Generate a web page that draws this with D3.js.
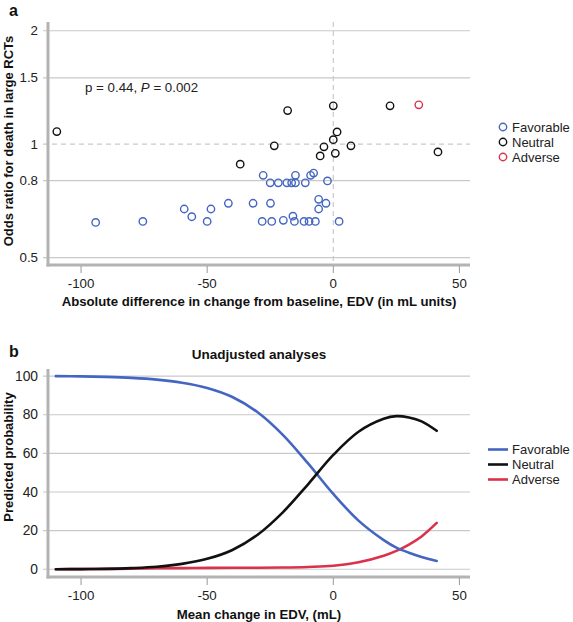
<!DOCTYPE html>
<html><head><meta charset="utf-8">
<script src="https://cdn.jsdelivr.net/npm/d3@7"></script>
<style>
body{margin:0;background:#fff;}
svg{display:block;font-family:"Liberation Sans",Arial,Helvetica,sans-serif;}
</style></head>
<body><svg id="c" width="573" height="622"></svg>
<script>
// ---------- Panel a data ----------
const favX = [-94.2,-75.5,-59.1,-56.1,-50,-48.5,-41.6,-31.8,-27.8,-28.2,-25,-24.9,-24.4,-21.8,-19.8,-18.4,-16.5,-15,-15,-16,-15.4,-11.1,-11.6,-9.6,-9,-7.8,-7.1,-5.8,-5.8,-2.9,-2.3,2.3];
const favY = [0.62,0.624,0.673,0.642,0.624,0.673,0.697,0.697,0.827,0.624,0.79,0.697,0.624,0.79,0.628,0.79,0.79,0.79,0.827,0.644,0.624,0.79,0.624,0.624,0.827,0.838,0.624,0.714,0.673,0.697,0.799,0.624];
const neuX = [-109.6,-36.9,-23.4,-18.1,0,22.5,1.5,0,7,-3.7,-5.2,0.8,41.5];
const neuY = [1.08,0.885,0.99,1.228,1.264,1.264,1.078,1.028,0.99,0.984,0.931,0.946,0.954];
const advX = [33.9];
const advY = [1.272];
const aYTicks = [0.5,0.8,1,1.5,2];
const aXTicks = [-100,-50,0,50];
const categories = ["Favorable","Neutral","Adverse"];

// ---------- Panel b data ----------
const bX   = [-110,-100,-90,-80,-70,-60,-50,-40,-30,-20,-10,0,10,20,25,30,35,41];
const bFav = [100,99.9,99.6,99.1,98.2,96.6,93.9,89.2,81.3,69.6,54.8,39,25.2,15.1,11.2,8.6,6.4,4.3];
const bNeu = [0,0.1,0.2,0.6,1.3,2.8,5.4,10,17.9,29.5,44,59.2,71.2,77.9,79.3,78.6,76.6,71.7];
const bAdv = [0,0.1,0.2,0.3,0.5,0.6,0.7,0.8,0.8,0.9,1.2,1.8,3.6,7,9.5,12.8,17,24];
const bYTicks = [0,20,40,60,80,100];
const bXTicks = [-100,-50,0,50];

const colors = {Favorable:"#4466c2", Neutral:"#111111", Adverse:"#d9324a"};
const gridC = "#c9c9c9", axisC = "#b3b3b3", txtC = "#222";

const svg = d3.select("#c");

// ================= PANEL A =================
const L = 48, R = 470;
const xa = d3.scaleLinear().domain([-113.1, 54.2]).range([L, R]);
const ya = d3.scaleLog().domain([0.478, 2.11]).range([265, 22]);
const ga = svg.append("g");

ga.append("text").attr("x",9).attr("y",16).attr("font-size",16).attr("font-weight","bold").attr("fill","#111").text("a");

aYTicks.forEach(t=>{
  ga.append("line").attr("x1",43).attr("x2",R).attr("y1",ya(t)).attr("y2",ya(t))
    .attr("stroke",gridC).attr("stroke-width",1.2)
    .attr("stroke-dasharray", t===1 ? "5,4" : null);
});
ga.append("line").attr("x1",xa(0)).attr("x2",xa(0)).attr("y1",22).attr("y2",265)
  .attr("stroke",gridC).attr("stroke-width",1.2).attr("stroke-dasharray","5,4");

ga.append("line").attr("x1",L).attr("x2",L).attr("y1",22).attr("y2",266.5).attr("stroke",axisC).attr("stroke-width",3);
ga.append("line").attr("x1",L-1.5).attr("x2",R).attr("y1",265).attr("y2",265).attr("stroke",axisC).attr("stroke-width",3);

aYTicks.forEach(t=>{
  ga.append("text").attr("x",38).attr("y",ya(t)+4.5).attr("text-anchor","end")
    .attr("font-size",13.3).attr("fill",txtC).text(d3.format("")(t));
});
aXTicks.forEach(t=>{
  ga.append("line").attr("x1",xa(t)).attr("x2",xa(t)).attr("y1",266).attr("y2",273).attr("stroke","#999").attr("stroke-width",1);
  ga.append("text").attr("x",xa(t)).attr("y",288).attr("text-anchor","middle")
    .attr("font-size",13.3).attr("fill",txtC).text(t);
});
ga.append("text").attr("x",259).attr("y",306).attr("text-anchor","middle").attr("font-size",13.2)
  .attr("font-weight","bold").attr("fill","#111").text("Absolute difference in change from baseline, EDV (in mL units)");
ga.append("text").attr("transform","translate(13,141) rotate(-90)").attr("text-anchor","middle").attr("font-size",13)
  .attr("font-weight","bold").attr("fill","#111").text("Odds ratio for death in large RCTs");

const ann = ga.append("text").attr("x",85).attr("y",92).attr("font-size",13.3).attr("fill",txtC);
ann.append("tspan").text("p = 0.44, ");
ann.append("tspan").attr("font-style","italic").text("P");
ann.append("tspan").text(" = 0.002");

function pts(xs, ys, col){
  ga.append("g").selectAll("circle").data(xs.map((x,i)=>[x,ys[i]])).join("circle")
    .attr("cx",d=>xa(d[0])).attr("cy",d=>ya(d[1])).attr("r",3.7)
    .attr("fill","none").attr("stroke",col).attr("stroke-width",1.4);
}
pts(favX,favY,colors.Favorable);
pts(neuX,neuY,colors.Neutral);
pts(advX,advY,colors.Adverse);

categories.forEach((c,i)=>{
  const y = 127 + i*15;
  ga.append("circle").attr("cx",503).attr("cy",y).attr("r",3.7).attr("fill","none").attr("stroke",colors[c]).attr("stroke-width",1.4);
  ga.append("text").attr("x",512).attr("y",y+4.5).attr("font-size",13).attr("fill",txtC).text(c);
});

// ================= PANEL B =================
const yb = d3.scaleLinear().domain([-4, 103.7]).range([577, 369]);
const gb = svg.append("g");
gb.append("text").attr("x",9).attr("y",357).attr("font-size",16).attr("font-weight","bold").attr("fill","#111").text("b");
gb.append("text").attr("x",259).attr("y",359).attr("text-anchor","middle").attr("font-size",13.5)
  .attr("font-weight","bold").attr("fill","#111").text("Unadjusted analyses");

bYTicks.forEach(t=>{
  gb.append("line").attr("x1",43).attr("x2",R).attr("y1",yb(t)).attr("y2",yb(t)).attr("stroke",gridC).attr("stroke-width",1.2);
  gb.append("text").attr("x",38).attr("y",yb(t)+4.5).attr("text-anchor","end").attr("font-size",13.8).attr("fill",txtC).text(t);
});
gb.append("line").attr("x1",L).attr("x2",L).attr("y1",369).attr("y2",578.5).attr("stroke",axisC).attr("stroke-width",3);
gb.append("line").attr("x1",L-1.5).attr("x2",R).attr("y1",577).attr("y2",577).attr("stroke",axisC).attr("stroke-width",3);
bXTicks.forEach(t=>{
  gb.append("line").attr("x1",xa(t)).attr("x2",xa(t)).attr("y1",578).attr("y2",585).attr("stroke","#999").attr("stroke-width",1);
  gb.append("text").attr("x",xa(t)).attr("y",600).attr("text-anchor","middle").attr("font-size",13.3).attr("fill",txtC).text(t);
});
gb.append("text").attr("x",259).attr("y",619).attr("text-anchor","middle").attr("font-size",13.2)
  .attr("font-weight","bold").attr("fill","#111").text("Mean change in EDV, (mL)");
gb.append("text").attr("transform","translate(13,457) rotate(-90)").attr("text-anchor","middle").attr("font-size",13)
  .attr("font-weight","bold").attr("fill","#111").text("Predicted probability");

const line = d3.line().x(d=>xa(d[0])).y(d=>yb(d[1])).curve(d3.curveCatmullRom.alpha(0.5));
[["Adverse",bAdv],["Favorable",bFav],["Neutral",bNeu]].forEach(([c,vals])=>{
  gb.append("path").attr("d",line(bX.map((x,i)=>[x,vals[i]])))
    .attr("fill","none").attr("stroke",colors[c]).attr("stroke-width",2.6).attr("stroke-linecap","round");
});

categories.forEach((c,i)=>{
  const y = 449.5 + i*15;
  gb.append("line").attr("x1",488).attr("x2",508).attr("y1",y).attr("y2",y).attr("stroke",colors[c]).attr("stroke-width",2.6);
  gb.append("text").attr("x",512).attr("y",y+4.5).attr("font-size",13).attr("fill",txtC).text(c);
});
</script></body></html>
